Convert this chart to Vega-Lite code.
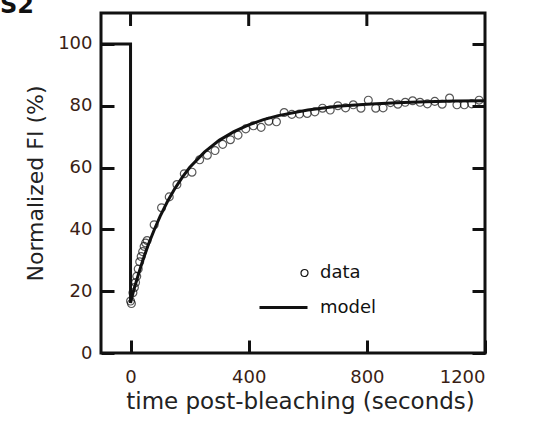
{
  "$schema": "https://vega.github.io/schema/vega-lite/v6.json",
  "width": 384,
  "height": 340,
  "autosize": {"type": "none"},
  "padding": {"left": 101, "top": 13, "right": 68, "bottom": 92},
  "background": "white",
  "title": {"text": "S2", "anchor": "start", "frame": "group", "orient": "top", "baseline": "alphabetic", "offset": 1, "dx": -101, "dy": 26, "font": "DejaVu Sans", "fontSize": 24, "fontWeight": "bold", "color": "#111"},
  "config": {
    "view": {"stroke": "#111", "strokeWidth": 3},
    "font": "DejaVu Sans",
    "axis": {
      "domain": false,
      "grid": false,
      "ticks": true,
      "tickColor": "#111",
      "tickWidth": 3,
      "tickSize": -13,
      "labelFont": "DejaVu Sans",
      "labelFontSize": 18,
      "labelColor": "#3a1e14",
      "titleFont": "DejaVu Sans",
      "titleFontSize": 22,
      "titleFontWeight": "normal",
      "titleColor": "#222"
    }
  },
  "datasets": {
    "model": [
      {"i": 0, "t": -100, "v": 100},
      {"i": 1, "t": 0, "v": 100},
      {"i": 2, "t": 0, "v": 16.2},
      {"i": 3, "t": 5, "v": 18.2},
      {"i": 4, "t": 10, "v": 20.0},
      {"i": 5, "t": 20, "v": 23.3},
      {"i": 6, "t": 30, "v": 26.5},
      {"i": 7, "t": 40, "v": 29.5},
      {"i": 8, "t": 50, "v": 32.3},
      {"i": 9, "t": 60, "v": 35.0},
      {"i": 10, "t": 80, "v": 39.8},
      {"i": 11, "t": 100, "v": 44.2},
      {"i": 12, "t": 125, "v": 49.0},
      {"i": 13, "t": 150, "v": 53.2},
      {"i": 14, "t": 175, "v": 56.8},
      {"i": 15, "t": 200, "v": 60.0},
      {"i": 16, "t": 250, "v": 65.0},
      {"i": 17, "t": 300, "v": 68.8},
      {"i": 18, "t": 350, "v": 71.6},
      {"i": 19, "t": 400, "v": 73.8},
      {"i": 20, "t": 450, "v": 75.5},
      {"i": 21, "t": 500, "v": 76.8},
      {"i": 22, "t": 600, "v": 78.6},
      {"i": 23, "t": 700, "v": 79.8},
      {"i": 24, "t": 800, "v": 80.5},
      {"i": 25, "t": 900, "v": 81.0},
      {"i": 26, "t": 1000, "v": 81.3},
      {"i": 27, "t": 1100, "v": 81.5},
      {"i": 28, "t": 1200, "v": 81.6}
    ],
    "topticks": [
      {"t": 0},
      {"t": 400},
      {"t": 800}
    ],
    "obs": [
      {"series": "data", "t": 0, "v": 16.8},
      {"series": "data", "t": 3, "v": 16.0},
      {"series": "data", "t": 8, "v": 19.5},
      {"series": "data", "t": 13, "v": 21.2},
      {"series": "data", "t": 17, "v": 22.8},
      {"series": "data", "t": 21, "v": 24.8},
      {"series": "data", "t": 26, "v": 27.2},
      {"series": "data", "t": 31, "v": 29.5},
      {"series": "data", "t": 36, "v": 31.2},
      {"series": "data", "t": 41, "v": 32.8},
      {"series": "data", "t": 46, "v": 34.5},
      {"series": "data", "t": 51, "v": 35.6},
      {"series": "data", "t": 56, "v": 36.4},
      {"series": "data", "t": 80, "v": 41.5},
      {"series": "data", "t": 105, "v": 47.0},
      {"series": "data", "t": 131, "v": 50.5},
      {"series": "data", "t": 157, "v": 54.5},
      {"series": "data", "t": 182, "v": 58.0},
      {"series": "data", "t": 208, "v": 58.5},
      {"series": "data", "t": 234, "v": 62.5},
      {"series": "data", "t": 260, "v": 64.0},
      {"series": "data", "t": 286, "v": 65.5},
      {"series": "data", "t": 312, "v": 67.5},
      {"series": "data", "t": 338, "v": 69.0},
      {"series": "data", "t": 364, "v": 70.5},
      {"series": "data", "t": 390, "v": 72.5},
      {"series": "data", "t": 416, "v": 73.5},
      {"series": "data", "t": 442, "v": 73.0},
      {"series": "data", "t": 468, "v": 75.0},
      {"series": "data", "t": 494, "v": 74.8},
      {"series": "data", "t": 520, "v": 77.8},
      {"series": "data", "t": 546, "v": 77.2},
      {"series": "data", "t": 572, "v": 77.3},
      {"series": "data", "t": 598, "v": 77.5},
      {"series": "data", "t": 624, "v": 78.0},
      {"series": "data", "t": 650, "v": 79.2},
      {"series": "data", "t": 676, "v": 78.6},
      {"series": "data", "t": 702, "v": 80.0},
      {"series": "data", "t": 728, "v": 79.3},
      {"series": "data", "t": 754, "v": 80.3},
      {"series": "data", "t": 780, "v": 79.2},
      {"series": "data", "t": 805, "v": 81.8},
      {"series": "data", "t": 830, "v": 79.2},
      {"series": "data", "t": 855, "v": 79.3},
      {"series": "data", "t": 880, "v": 81.0},
      {"series": "data", "t": 905, "v": 80.5},
      {"series": "data", "t": 930, "v": 81.1},
      {"series": "data", "t": 955, "v": 81.6},
      {"series": "data", "t": 980, "v": 81.1},
      {"series": "data", "t": 1005, "v": 80.6},
      {"series": "data", "t": 1030, "v": 81.4},
      {"series": "data", "t": 1055, "v": 80.5},
      {"series": "data", "t": 1080, "v": 82.5},
      {"series": "data", "t": 1105, "v": 80.3},
      {"series": "data", "t": 1130, "v": 80.3},
      {"series": "data", "t": 1155, "v": 80.6},
      {"series": "data", "t": 1180, "v": 81.8}
    ]
  },
  "layer": [
    {
      "data": {"name": "obs"},
      "mark": {"type": "point", "shape": "circle", "filled": false, "stroke": "#111", "strokeWidth": 1.2, "size": 62},
      "encoding": {
        "x": {"field": "t", "type": "quantitative", "scale": {"domain": [-100, 1200], "nice": false, "zero": false},
              "axis": {"orient": "bottom", "values": [0, 400, 800, 1200], "format": "d", "title": "time post-bleaching (seconds)", "titleFontSize": 23, "titleX": 199, "labelPadding": 28, "titlePadding": 4}},
        "y": {"field": "v", "type": "quantitative", "scale": {"domain": [0, 110], "nice": false},
              "axis": {"orient": "left", "values": [0, 20, 40, 60, 80, 100], "title": "Normalized FI (%)", "labelPadding": 22, "titlePadding": 10}}
      }
    },
    {
      "data": {"name": "topticks"},
      "mark": {"type": "rule", "color": "#111", "strokeWidth": 3},
      "encoding": {
        "x": {"field": "t", "type": "quantitative", "axis": null},
        "y": {"datum": 110, "type": "quantitative", "axis": {"values": [0, 20, 40, 60, 80, 100], "labels": false, "title": null}},
        "y2": {"datum": 105.8}
      }
    },
    {
      "data": {"name": "model"},
      "mark": {"type": "line", "color": "#111", "strokeWidth": 3},
      "encoding": {
        "x": {"field": "t", "type": "quantitative", "axis": null},
        "y": {"field": "v", "type": "quantitative", "axis": null},
        "order": {"field": "i", "type": "quantitative"}
      }
    },
    {
      "data": {"name": "obs"},
      "mark": {"type": "point", "filled": false, "stroke": "#111", "opacity": 0, "size": 2304},
      "encoding": {
        "x": {"field": "t", "type": "quantitative", "axis": null},
        "y": {"field": "v", "type": "quantitative", "axis": null},
        "shape": {"field": "series", "type": "nominal", "scale": {"domain": ["data", "model"], "range": ["M0.729,0 A0.146,0.146 0 1 1 1.021,0 A0.146,0.146 0 1 1 0.729,0 Z", "stroke"]},
                  "legend": {"orient": "none", "legendX": 157, "legendY": 235, "title": null, "labelFont": "DejaVu Sans", "labelFontSize": 18, "labelColor": "#111", "labelOffset": 11, "symbolStrokeColor": "#111", "symbolOpacity": 1, "symbolSize": 2304, "rowPadding": -17}},
        "strokeWidth": {"field": "series", "type": "nominal", "scale": {"domain": ["data", "model"], "range": [1.2, 3]},
                        "legend": {"orient": "none", "legendX": 157, "legendY": 235, "title": null, "labelFont": "DejaVu Sans", "labelFontSize": 18, "labelColor": "#111", "labelOffset": 11, "symbolStrokeColor": "#111", "symbolOpacity": 1, "symbolSize": 2304, "rowPadding": -17}}
      }
    }
  ],
  "resolve": {"axis": {"x": "independent", "y": "independent"}}
}
